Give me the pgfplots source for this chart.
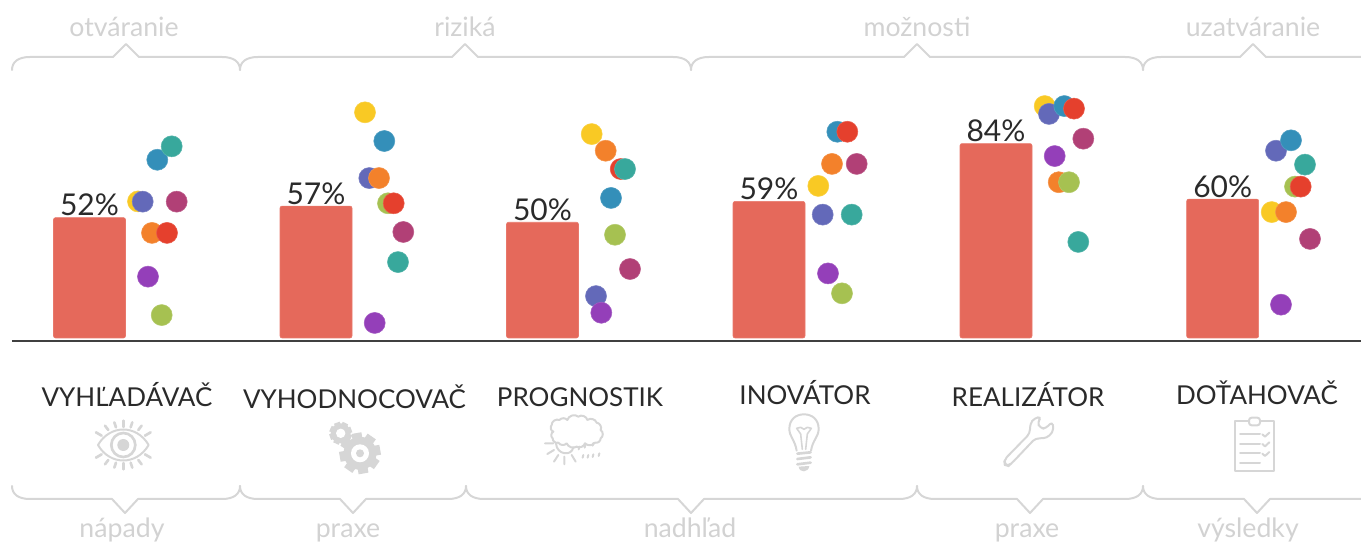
\documentclass[border=0pt]{standalone}
\usepackage{fontspec}
\setmainfont{Lato}
\usepackage{pgfplots}
\pgfplotsset{compat=1.18}
\definecolor{barc}{HTML}{E5695B}
\definecolor{cy}{HTML}{F9C924}
\definecolor{ci}{HTML}{6369B9}
\definecolor{cb}{HTML}{348FB9}
\definecolor{co}{HTML}{F3812B}
\definecolor{cg}{HTML}{A6C151}
\definecolor{cr}{HTML}{E5402D}
\definecolor{ct}{HTML}{38A89C}
\definecolor{cm}{HTML}{B14076}
\definecolor{cp}{HTML}{943FB9}
\definecolor{lg}{HTML}{D6D6D6}
\definecolor{lt}{HTML}{D2D2D2}
\definecolor{dk}{HTML}{2A2A2A}
\pgfplotsset{dot/.style={only marks, mark=*, mark size=7.9pt, mark options={fill=#1, draw=#1!85!white, line width=0.4pt}}}
\begin{document}
\begin{tikzpicture}
\useasboundingbox (0,0) rectangle (1020.75pt,407.25pt);
\begin{axis}[
  at={(9pt,151.5pt)}, anchor=south west,
  scale only axis, width=1011.75pt, height=210.75pt,
  xmin=12, xmax=1361, ymin=-1.3, ymax=120.1,
  axis x line*=bottom, axis y line=none,
  x axis line style={draw=black!75, line width=1.5pt, -},
  major tick length=0pt, ytick=\empty,
  xtick={127,354.5,580,805,1028,1257},
  xticklabels={VYHĽADÁVAČ,\raisebox{-1pt}{VYHODNOCOVAČ},PROGNOSTIK,\raisebox{1.5pt}{INOVÁTOR},REALIZÁTOR,\raisebox{1.5pt}{DOŤAHOVAČ}},
  xticklabel style={anchor=base, yshift=-49.5pt, font=\fontsize{19.5pt}{23pt}\selectfont, text=dk},
  /pgf/number format/assume math mode=true,
  clip=false,
]
\addplot[ybar, bar width=54pt, fill=barc, draw=barc!90!white, line width=0.4pt, rounded corners=1.5pt,
  nodes near coords={\pgfmathprintnumber\pgfplotspointmeta\%},
  every node near coord/.append style={font=\fontsize{22.5pt}{26pt}\selectfont, text=dk, inner sep=1pt, rounded corners=0pt, anchor=south}]
  coordinates {(89.5,52) (316,57) (542.5,50) (769,59) (996,84) (1222.7,60)};
\addplot[dot=cy] coordinates {(138,59.0) (365,97.5) (591.7,88.1) (818.3,65.7) (1044.7,100.2) (1271.7,54.4)};
\addplot[dot=ci] coordinates {(142.7,58.9) (369.3,69.1) (596,18.1) (822.7,53.3) (1049,96.8) (1276,80.9)};
\addplot[dot=cb] coordinates {(157.3,77.0) (384.3,85.1) (611,60.5) (837.3,89.1) (1064.3,100.2) (1291,85.4)};
\addplot[dot=co] coordinates {(152,45.4) (379,69.1) (605.7,80.9) (832,75.2) (1058.7,67.3) (1286,54.4)};
\addplot[dot=cg] coordinates {(161.7,9.9) (388,58.2) (615,44.6) (842,19.3) (1069,67.3) (1295,65.4)};
\addplot[dot=cr] coordinates {(167,45.4) (393.7,58.2) (620.7,73.0) (847.3,89.1) (1074,99.1) (1300.7,65.4)};
\addplot[dot=ct] coordinates {(171.7,82.8) (398,32.8) (625,73.0) (851.7,53.3) (1078.3,41.5) (1305,74.9)};
\addplot[dot=cm] coordinates {(176.7,58.9) (403.3,45.8) (630,29.8) (856.7,75.2) (1083.3,86.1) (1310,42.8)};
\addplot[dot=cp] coordinates {(148,26.5) (374.7,6.5) (601.3,10.9) (828,27.9) (1054.7,78.6) (1281,14.4)};
\end{axis}
\begin{scope}[shift={(0pt,407.25pt)},x=0.75pt,y=-0.75pt,line width=1.5pt,draw=lg,line join=round,line cap=round]
 % top braces
 \foreach \a/\p/\b in {12/126/240, 240/465/691, 691/917/1143}{
  \draw (\a,70) .. controls (\a,62) and (\a+6,57) .. (\a+18,57) -- (\p-13,57) -- (\p,44) -- (\p+13,57) -- (\b-18,57) .. controls (\b-6,57) and (\b,62) .. (\b,70);
 }
 \draw (1143,70) .. controls (1143,62) and (1149,57) .. (1161,57) -- (1240,57) -- (1253,44) -- (1266,57) -- (1361,57);
 % bottom braces
 \foreach \a/\p/\b in {12/125/240, 240/353/466, 466/691/917, 917/1030/1143}{
  \draw (\a,486) .. controls (\a,494) and (\a+6,499) .. (\a+18,499) -- (\p-13,499) -- (\p,513) -- (\p+13,499) -- (\b-18,499) .. controls (\b-6,499) and (\b,494) .. (\b,486);
 }
 \draw (1143,486) .. controls (1143,494) and (1149,499) .. (1161,499) -- (1244,499) -- (1257,513) -- (1270,499) -- (1361,499);
 % group names
 \foreach \t/\x in {otváranie/124, riziká/465, možnosti/917, uzatváranie/1253}
   \node[anchor=base,text=lt,font=\fontsize{20pt}{24pt}\selectfont] at (\x,37) {\t};
 \foreach \t/\x in {nápady/122, praxe/348, nadhľad/690, praxe/1027, výsledky/1248}
   \node[anchor=base,inner sep=0pt,text=lt,font=\fontsize{20pt}{24pt}\selectfont] at (\x,537) {\t};
 % eye
 \begin{scope}[shift={(123.3,445)},scale=0.3333]
  \draw (-76,0) .. controls (-40,-62) and (40,-62) .. (76,0) .. controls (40,62) and (-40,62) .. (-76,0) -- cycle;
  \draw[line width=2pt] (0,0) circle (36);
  \fill[lg] (0,0) circle (18);
  \foreach \s in {1,-1}{
   \draw[line width=2pt] (0,\s*73) -- (0,\s*54);
   \foreach \q in {1,-1}{
    \draw[line width=2pt] (\q*27,\s*68) -- (\q*22,\s*53);
    \draw[line width=2pt] (\q*55,\s*58) -- (\q*45,\s*45);
    \draw[line width=2pt] (\q*82,\s*38) -- (\q*65,\s*28);
   }
  }
 \end{scope}
 % gears
 \fill[lg] (340.7,433.3) circle (10);
 \foreach \r in {0,45,...,315} \fill[lg,rotate around={\r+20:(340.7,433.3)}] (337.7,422) rectangle (343.7,430);
 \fill[white] (340.7,433.3) circle (4.7);
 \fill[lg] (360,453.3) circle (16.5);
 \foreach \r in {0,45,...,315} \fill[lg,rotate around={\r+10:(360,453.3)}] (355,432.8) rectangle (365,445);
 \fill[white] (360,453.3) circle (9);
 \fill[lg] (360,453.3) circle (4);
 % cloud and sun
 \begin{scope}[shift={(530,410)},scale=0.3333]
  \draw (65,45) to[bend left=60] (88,30) to[bend left=50] (112,30) to[bend left=60] (145,20) to[bend left=60] (172,30) to[bend left=55] (200,38) to[bend left=55] (212,60) to[bend left=60] (212,85) to[bend left=55] (195,98) to[bend left=50] (165,100) to[bend left=50] (140,110) to[bend left=50] (110,100) to[bend left=55] (85,98) to[bend left=60] (68,85) to[bend left=60] (70,65) to[bend left=60] (65,45);
  \draw (78,100) .. controls (80,135) and (125,140) .. (130,112);
  \draw (45,100) -- (70,100) (52,132) -- (72,120) (72,155) -- (85,135) (103,163) -- (103,140) (137,155) -- (125,135);
  \foreach \x/\y in {160/140,175/140,190/138,208/135,148/115,166/110,190/104}
   \draw (\x,\y-5) -- (\x-2,\y+3);
 \end{scope}
 % bulb
 \begin{scope}[shift={(760,410)},scale=0.3333]
  \draw (110,122) .. controls (105,90) and (88,80) .. (88,57) .. controls (88,28) and (108,13) .. (132,13) .. controls (156,13) and (176,28) .. (176,57) .. controls (176,80) and (158,90) .. (153,122);
  \draw[line width=1.2pt] (127,118) -- (122,72) -- (110,55) -- (122,52) -- (132,58) -- (142,52) -- (154,55) -- (142,72) -- (137,118);
  \draw[line width=2pt] (112,131) -- (152,127) (112,147) -- (152,142) (112,163) -- (152,158);
  \fill[lg] (116,170) -- (148,168) .. controls (146,188) and (118,190) .. (116,170) -- cycle;
 \end{scope}
 % wrench
 \begin{scope}[shift={(990,410)},scale=0.3333]
  \draw[rounded corners=3pt] (42,150) -- (120,70) -- (120,42) -- (133,24) -- (155,20) -- (142,36) -- (150,55) -- (168,56) -- (186,34) -- (192,56) -- (180,78) -- (160,86) -- (137,84) -- (65,160) -- (55,168) -- (45,165) -- cycle;
 \end{scope}
 % clipboard
 \begin{scope}[shift={(1190,410)},scale=0.3333]
  \draw (135,33) rectangle (252,183);
  \draw[fill=white,rounded corners=2pt] (177,23) rectangle (210,46);
  \foreach \y in {72,101,130,159} \draw (150,\y) -- (210,\y);
  \foreach \y in {72,101,130} \draw (217,\y+1) -- (225,\y+8) -- (238,\y-4);
 \end{scope}
\end{scope}
\end{tikzpicture}
\end{document}
